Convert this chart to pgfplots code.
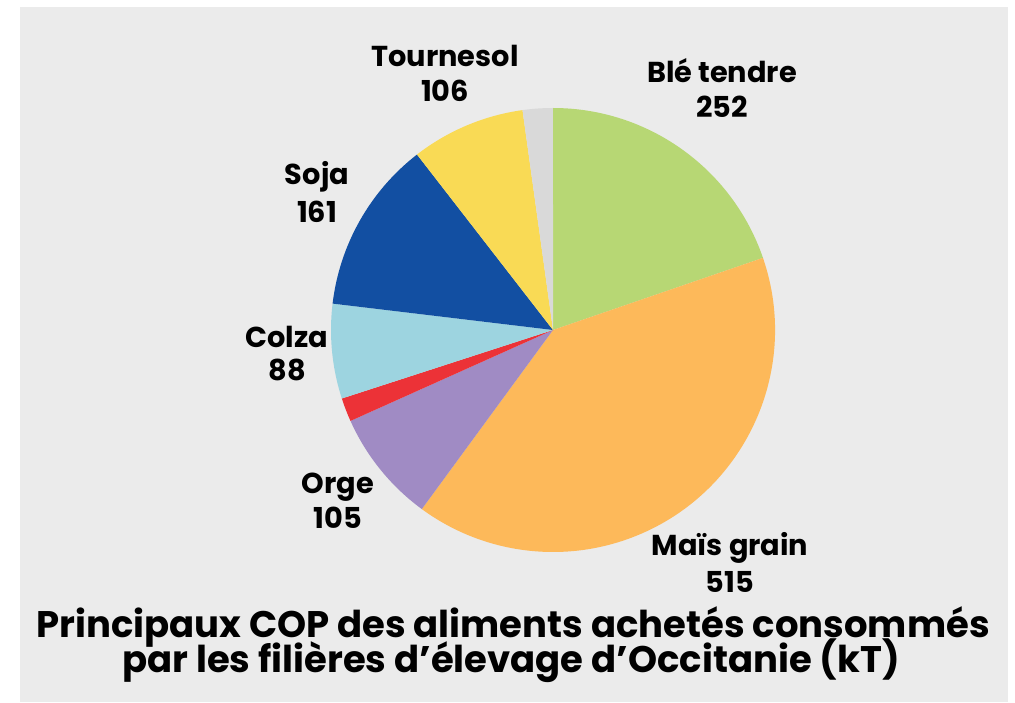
\documentclass[border=0pt]{standalone}
\usepackage{pgfplots}
\pgfplotsset{compat=1.18}
\usepackage{fontspec}
\setmainfont{Poppins}
\definecolor{bg}{HTML}{EBEBEB}
\definecolor{cBle}{HTML}{B7D774}
\definecolor{cMais}{HTML}{FDB95A}
\definecolor{cOrge}{HTML}{A08BC4}
\definecolor{cRed}{HTML}{EC3237}
\definecolor{cColza}{HTML}{9DD4E0}
\definecolor{cSoja}{HTML}{124FA2}
\definecolor{cTour}{HTML}{F9DA55}
\definecolor{cGrey}{HTML}{D9D9D9}
\newcommand\pieslice[3]{\fill[#3] (axis cs:553,372) -- ++(#1:111pt) arc[start angle=#1, end angle=#2, radius=111pt] -- cycle;}
\begin{document}
\begin{tikzpicture}
% values (kT), clockwise from top
\def\vBle{252}\def\vMais{515}\def\vOrge{105}\def\vRed{22}
\def\vColza{88}\def\vSoja{161}\def\vTour{106}\def\vGrey{28}
\pgfmathsetmacro\tot{\vBle+\vMais+\vOrge+\vRed+\vColza+\vSoja+\vTour+\vGrey}
\pgfmathsetmacro\kk{360/\tot}
\pgfmathsetmacro\aA{90}
\pgfmathsetmacro\aB{\aA-\vBle*\kk}
\pgfmathsetmacro\aC{\aB-\vMais*\kk}
\pgfmathsetmacro\aD{\aC-\vOrge*\kk}
\pgfmathsetmacro\aE{\aD-\vRed*\kk}
\pgfmathsetmacro\aF{\aE-\vColza*\kk}
\pgfmathsetmacro\aG{\aF-\vSoja*\kk}
\pgfmathsetmacro\aH{\aG-\vTour*\kk}
\pgfmathsetmacro\aI{\aH-\vGrey*\kk}
\begin{axis}[x=0.5pt, y=0.5pt, xmin=0, xmax=1015, ymin=0, ymax=702,
  hide axis, clip=false, scale only axis]
\fill[white] (axis cs:0,0) rectangle (axis cs:1015,702);
\fill[bg] (axis cs:20,0) rectangle (axis cs:1008,695);
\pieslice{\aA}{\aB}{cBle}
\pieslice{\aB}{\aC}{cMais}
\pieslice{\aC}{\aD}{cOrge}
\pieslice{\aD}{\aE}{cRed}
\pieslice{\aE}{\aF}{cColza}
\pieslice{\aF}{\aG}{cSoja}
\pieslice{\aG}{\aH}{cTour}
\pieslice{\aH}{\aI}{cGrey}
\tikzset{lab/.style={anchor=base, inner sep=0pt, font=\fontsize{14.4}{17}\selectfont\bfseries}}
\node[lab] at (axis cs:445,635) {Tournesol};
\node[lab] at (axis cs:445,600) {\vTour};
\node[lab] at (axis cs:722,619) {Blé tendre};
\node[lab] at (axis cs:722,584) {\vBle};
\node[lab] at (axis cs:317,517) {Soja};
\node[lab] at (axis cs:317,479) {\vSoja};
\node[lab] at (axis cs:287,355) {Colza};
\node[lab] at (axis cs:287,322) {\vColza};
\node[lab] at (axis cs:338,209) {Orge};
\node[lab] at (axis cs:338,174) {\vOrge};
\node[lab] at (axis cs:730,147) {Maïs grain};
\node[lab] at (axis cs:730,110) {\vMais};
\tikzset{tit/.style={anchor=base, inner sep=0pt, font=\fontsize{18.5}{22}\selectfont\bfseries}}
\node[tit] at (axis cs:513,65) {Principaux COP des aliments achetés consommés};
\node[tit] at (axis cs:511,30) {par les filières d’élevage d’Occitanie (kT)};
\end{axis}
\end{tikzpicture}
\end{document}
